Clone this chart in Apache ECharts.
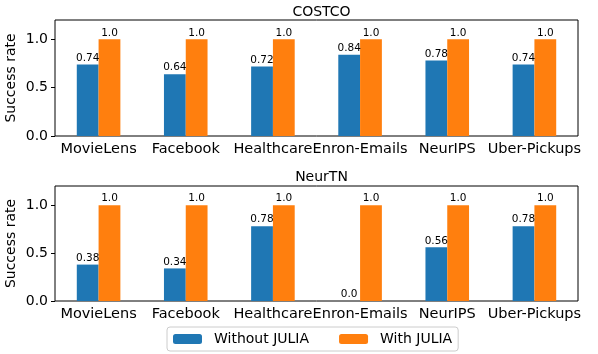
<!DOCTYPE html>
<html>
<head>
<meta charset="utf-8">
<script src="https://cdn.jsdelivr.net/npm/echarts@6/dist/echarts.min.js"></script>
<style>
  html, body { margin: 0; padding: 0; background: #fff; }
  #main { width: 598px; height: 354px; }
</style>
</head>
<body>
<div id="main"></div>
<script>
var categories = ['MovieLens', 'Facebook', 'Healthcare', 'Enron-Emails', 'NeurIPS', 'Uber-Pickups'];
var panelTitles = ['COSTCO', 'NeurTN'];
var seriesNames = ['Without JULIA', 'With JULIA'];
var costcoWithout = [0.74, 0.64, 0.72, 0.84, 0.78, 0.74];
var costcoWith = [1.0, 1.0, 1.0, 1.0, 1.0, 1.0];
var neurtnWithout = [0.38, 0.34, 0.78, 0.0, 0.56, 0.78];
var neurtnWith = [1.0, 1.0, 1.0, 1.0, 1.0, 1.0];
var yTicks = [0, 0.5, 1.0];

var FONT = 'DejaVu Sans';
var colors = ['#1f77b4', '#ff7f0e'];

function fmt(v) {
    return (v === Math.round(v)) ? v.toFixed(1) : String(v);
}

var grids = [
    {left: 55, right: 20, top: 20, height: 116},
    {left: 55, right: 20, top: 186, height: 115}
];

function xAx(i) {
    return {
        type: 'category', gridIndex: i, data: categories,
        axisLine: {show: false},
        axisTick: {alignWithLabel: true, length: 4, lineStyle: {color: '#000'}},
        axisLabel: {color: '#000', fontFamily: FONT, fontSize: 14.5, margin: 6, interval: 0}
    };
}

function yAx(i) {
    return {
        type: 'value', gridIndex: i, min: 0, max: 1.2, interval: 0.5,
        name: 'Success rate', nameLocation: 'middle', nameGap: 37, nameMoveOverlap: false,
        nameTextStyle: {color: '#000', fontFamily: FONT, fontSize: 14},
        splitLine: {show: false},
        axisLine: {show: false},
        axisTick: {show: true, length: 4, customValues: yTicks, lineStyle: {color: '#000'}},
        axisLabel: {color: '#000', fontFamily: FONT, fontSize: 14, margin: 7, customValues: yTicks,
            formatter: function (v) { return v.toFixed(1); }}
    };
}

function bar(name, data, i, c) {
    return {
        name: name, type: 'bar', xAxisIndex: i, yAxisIndex: i, data: data,
        barWidth: '25%', barGap: '0%',
        itemStyle: {color: c},
        label: {show: true, position: 'top', distance: 1, color: '#000', fontFamily: FONT, fontSize: 10.5,
            formatter: function (p) { return fmt(p.value); }}
    };
}

var option = {
    backgroundColor: '#fff',
    animation: false,
    title: panelTitles.map(function (t, i) {
        return {text: t, left: 316.5, textAlign: 'center', top: i === 0 ? 0 : 165,
            textStyle: {fontFamily: FONT, fontSize: 14, fontWeight: 'normal', color: '#000'}};
    }),
    legend: {
        data: seriesNames, left: 167, top: 327,
        itemWidth: 29, itemHeight: 10, itemGap: 30,
        padding: [5, 6, 5, 6],
        borderColor: '#ccc', borderWidth: 1, borderRadius: 3,
        textStyle: {fontFamily: FONT, fontSize: 14, color: '#000', padding: [0, 0, 0, 7]}
    },
    grid: grids.map(function (g) {
        return Object.assign({show: true, borderColor: '#000', borderWidth: 1, outerBoundsMode: 'none'}, g);
    }),
    xAxis: [xAx(0), xAx(1)],
    yAxis: [yAx(0), yAx(1)],
    series: [
        bar(seriesNames[0], costcoWithout, 0, colors[0]),
        bar(seriesNames[1], costcoWith, 0, colors[1]),
        bar(seriesNames[0], neurtnWithout, 1, colors[0]),
        bar(seriesNames[1], neurtnWith, 1, colors[1])
    ]
};

var chart = echarts.init(document.getElementById('main'));
chart.setOption(option);
</script>
</body>
</html>
